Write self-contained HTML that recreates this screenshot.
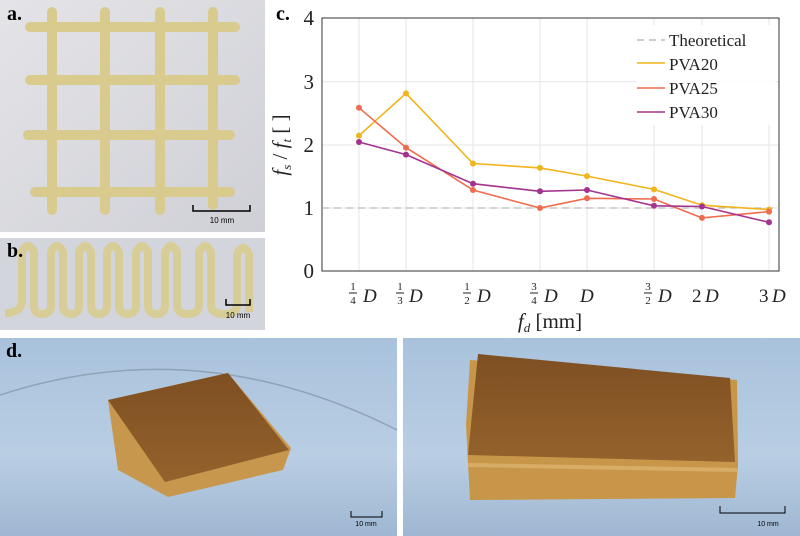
<!DOCTYPE html>
<html><head><meta charset="utf-8"><style>
body{margin:0;width:800px;height:536px;background:#fff;overflow:hidden;position:relative;font-family:"Liberation Serif",serif}
.lbl{position:absolute;font-weight:bold;font-size:20px;color:#000}
</style></head><body>
<svg width="800" height="536" style="position:absolute;left:0;top:0" xmlns="http://www.w3.org/2000/svg">
<defs>
<linearGradient id="bga" x1="0" y1="0" x2="1" y2="1"><stop offset="0" stop-color="#e4e4e8"/><stop offset="1" stop-color="#cfd0d6"/></linearGradient>
<linearGradient id="bgd" x1="0" y1="0" x2="0" y2="1"><stop offset="0" stop-color="#a9c2dc"/><stop offset="0.6" stop-color="#b9cee3"/><stop offset="1" stop-color="#9fb7d2"/></linearGradient>
<linearGradient id="blk" x1="0" y1="0" x2="0" y2="1"><stop offset="0" stop-color="#7e4f22"/><stop offset="1" stop-color="#94622c"/></linearGradient>
</defs>
<rect x="0" y="0" width="265" height="232" fill="url(#bga)"/>
<g stroke="#d9ca8e" stroke-width="10" stroke-linecap="round" fill="none">
<line x1="52" y1="12" x2="52" y2="210"/><line x1="105" y1="12" x2="105" y2="210"/>
<line x1="160" y1="12" x2="160" y2="210"/><line x1="213" y1="12" x2="213" y2="205"/>
<line x1="30" y1="27" x2="235" y2="27"/><line x1="30" y1="80" x2="235" y2="80"/>
<line x1="28" y1="135" x2="230" y2="135"/><line x1="35" y1="192" x2="230" y2="192"/>
</g>
<g stroke="#000" stroke-width="1.5" fill="none"><path d="M193,205 V211 H250 V205"/></g>
<text x="222" y="223" font-family="Liberation Sans" font-size="8" text-anchor="middle">10 mm</text>
<rect x="0" y="238" width="265" height="92" fill="#d3d5dc"/>
<path d="M5,313 Q22,313 22,300 V252 Q28,240 34,252 V305 Q34,314 42,314 Q51,314 51,305 V252 Q57,240 63,252 V305 Q63,314 71,314 Q79,314 79,305 V252 Q85,240 91,252 V305 Q91,314 99,314 Q107,314 107,305 V252 Q113,240 119,252 V305 Q119,314 127,314 Q136,314 136,305 V252 Q142,240 148,252 V305 Q148,314 156,314 Q165,314 165,305 V252 Q171,240 177,252 V305 Q177,314 188,314 Q199,314 199,305 V252 Q205,240 211,252 V305 Q211,314 224,314 Q237,314 237,305 V254 Q243,242 249,254 V312" stroke="#d8cd96" stroke-width="8" fill="none" stroke-linejoin="round"/>
<g stroke="#000" stroke-width="1.5" fill="none"><path d="M226,299 V305 H250 V299"/></g>
<text x="238" y="318" font-family="Liberation Sans" font-size="8" text-anchor="middle">10 mm</text>
<rect x="0" y="338" width="397" height="198" fill="url(#bgd)"/>
<rect x="403" y="338" width="397" height="198" fill="url(#bgd)"/>
<path d="M0,395 Q200,330 397,430" stroke="#8ea3b8" stroke-width="1.5" fill="none"/>
<polygon points="108,400 228,373 291,448 283,470 168,497 118,470" fill="#c7974e"/>
<polygon points="108,400 228,373 289,450 165,482" fill="url(#blk)"/>
<polygon points="470,360 737,380 738,465 735,498 470,500 466,425" fill="#c89648"/>
<polygon points="478,354 730,378 735,462 468,455" fill="url(#blk)"/>
<line x1="468" y1="465" x2="737" y2="470" stroke="#d7ad66" stroke-width="4"/>
<g stroke="#000" stroke-width="1" fill="none"><path d="M351,511 V517 H382 V511"/><path d="M720,506 V513 H785 V506"/></g>
<text x="366" y="526" font-family="Liberation Sans" font-size="7" text-anchor="middle">10 mm</text>
<text x="768" y="526" font-family="Liberation Sans" font-size="7" text-anchor="middle">10 mm</text>
<g stroke="#e6e6e6" stroke-width="1">
<line x1="359" y1="18" x2="359" y2="271"/><line x1="406" y1="18" x2="406" y2="271"/><line x1="473" y1="18" x2="473" y2="271"/><line x1="540" y1="18" x2="540" y2="271"/><line x1="587" y1="18" x2="587" y2="271"/><line x1="654" y1="18" x2="654" y2="271"/><line x1="702" y1="18" x2="702" y2="271"/><line x1="769" y1="18" x2="769" y2="271"/>
<line x1="322" y1="81.75" x2="779" y2="81.75"/><line x1="322" y1="145" x2="779" y2="145"/><line x1="322" y1="208" x2="779" y2="208"/>
</g>
<rect x="322" y="18" width="457" height="253" fill="none" stroke="#333" stroke-width="1"/>
<line x1="322" y1="208" x2="779" y2="208" stroke="#aaa" stroke-dasharray="7,5"/>
<g font-size="21" fill="#222" text-anchor="end">
<text x="314" y="25">4</text><text x="314" y="89">3</text><text x="314" y="152">2</text><text x="314" y="215">1</text><text x="314" y="278">0</text>
</g>
<g font-size="19" font-style="italic" fill="#222">
<text x="363" y="302">D</text><text x="409" y="302">D</text><text x="477" y="302">D</text><text x="544" y="302">D</text><text x="580" y="302">D</text><text x="658" y="302">D</text><text x="705" y="302">D</text><text x="772" y="302">D</text>
</g>
<g font-size="19" fill="#222"><text x="692" y="302">2</text><text x="759" y="302">3</text></g>
<g font-size="11" fill="#222" text-anchor="middle">
<text x="353" y="290">1</text><text x="353" y="304">4</text><line x1="349" y1="293" x2="357" y2="293" stroke="#222"/>
<text x="400" y="290">1</text><text x="400" y="304">3</text><line x1="396" y1="293" x2="404" y2="293" stroke="#222"/>
<text x="467" y="290">1</text><text x="467" y="304">2</text><line x1="463" y1="293" x2="471" y2="293" stroke="#222"/>
<text x="534" y="290">3</text><text x="534" y="304">4</text><line x1="530" y1="293" x2="538" y2="293" stroke="#222"/>
<text x="648" y="290">3</text><text x="648" y="304">2</text><line x1="644" y1="293" x2="652" y2="293" stroke="#222"/>
</g>
<text x="550" y="328" font-size="21" fill="#222" text-anchor="middle"><tspan font-style="italic">f</tspan><tspan font-style="italic" font-size="13" dy="4">d</tspan><tspan dy="-4"> [mm]</tspan></text>
<text transform="translate(287,145) rotate(-90)" font-size="21" fill="#222" text-anchor="middle"><tspan font-style="italic">f</tspan><tspan font-style="italic" font-size="13" dy="4">s</tspan><tspan dy="-4"> / </tspan><tspan font-style="italic">f</tspan><tspan font-style="italic" font-size="13" dy="4">t</tspan><tspan dy="-4"> [ ]</tspan></text>
<g fill="none" stroke-width="1.6">
<polyline stroke="#f0b51c" points="359,135.6 406,93.4 473,163.5 540,167.9 587,176.1 654,189.4 702,205.2 769,209.6"/>
<polyline stroke="#ee6d4f" points="359,107.8 406,147.6 473,190 540,208 587,198.3 654,199 702,217.9 769,211.6"/>
<polyline stroke="#a3338f" points="359,142 406,154.6 473,183.7 540,191.3 587,190 654,205.8 702,206.5 769,222.3"/>
</g>
<g fill="#f0b51c"><circle cx="359" cy="135.6" r="3"/><circle cx="406" cy="93.4" r="3"/><circle cx="473" cy="163.5" r="3"/><circle cx="540" cy="167.9" r="3"/><circle cx="587" cy="176.1" r="3"/><circle cx="654" cy="189.4" r="3"/><circle cx="702" cy="205.2" r="3"/><circle cx="769" cy="209.6" r="3"/></g>
<g fill="#ee6d4f"><circle cx="359" cy="107.8" r="3"/><circle cx="406" cy="147.6" r="3"/><circle cx="473" cy="190" r="3"/><circle cx="540" cy="208" r="3"/><circle cx="587" cy="198.3" r="3"/><circle cx="654" cy="199" r="3"/><circle cx="702" cy="217.9" r="3"/><circle cx="769" cy="211.6" r="3"/></g>
<g fill="#a3338f"><circle cx="359" cy="142" r="3"/><circle cx="406" cy="154.6" r="3"/><circle cx="473" cy="183.7" r="3"/><circle cx="540" cy="191.3" r="3"/><circle cx="587" cy="190" r="3"/><circle cx="654" cy="205.8" r="3"/><circle cx="702" cy="206.5" r="3"/><circle cx="769" cy="222.3" r="3"/></g>
<rect x="636" y="25" width="140" height="100" fill="#fff" opacity="0.85"/>
<line x1="637" y1="40" x2="665" y2="40" stroke="#bbb" stroke-dasharray="7,5" stroke-width="1.5"/>
<line x1="637" y1="63" x2="665" y2="63" stroke="#f0b51c" stroke-width="1.6"/>
<line x1="637" y1="88" x2="665" y2="88" stroke="#ee6d4f" stroke-width="1.6"/>
<line x1="637" y1="112" x2="665" y2="112" stroke="#a3338f" stroke-width="1.6"/>
<g font-size="17" fill="#222"><text x="669" y="46">Theoretical</text><text x="669" y="70">PVA20</text><text x="669" y="94">PVA25</text><text x="669" y="118">PVA30</text></g>
</svg>
<div class="lbl" style="left:7px;top:3px">a.</div>
<div class="lbl" style="left:7px;top:240px">b.</div>
<div class="lbl" style="left:276px;top:3px">c.</div>
<div class="lbl" style="left:6px;top:340px">d.</div>
</body></html>
